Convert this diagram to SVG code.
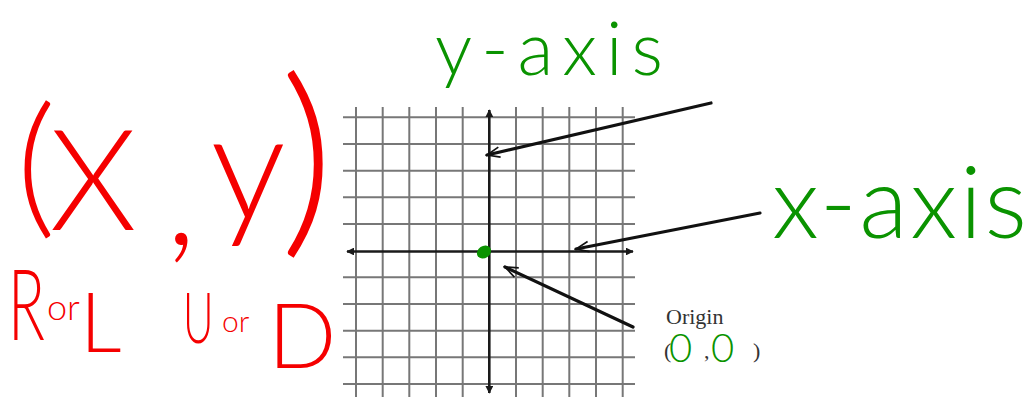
<svg xmlns="http://www.w3.org/2000/svg" width="1033" height="397" viewBox="0 0 1033 397">
<style>
.grid line{stroke:#777;stroke-width:2}
.axis{stroke:#1a1a1a;stroke-width:2.6;fill:none}
.ptr{stroke:#111;stroke-width:3.2;fill:none;stroke-linecap:round}
.red{fill:#f50000;font-family:Lato,Roboto,"Open Sans","Liberation Sans",sans-serif;font-weight:300}
.grn{fill:#0a9300;font-family:Lato,Roboto,"Open Sans","Liberation Sans",sans-serif;font-weight:300}
.prt{fill:#333;font-family:"Liberation Serif",serif}
</style>
<defs>
<marker id="ah" viewBox="0 0 12 10" refX="11" refY="5" markerWidth="5" markerHeight="4" orient="auto" markerUnits="strokeWidth">
<path d="M1,1 L11,5 L1,9" fill="none" stroke="#111" stroke-width="1.3"/>
</marker>
<marker id="tri" viewBox="0 0 10 10" refX="9" refY="5" markerWidth="3" markerHeight="3" orient="auto-start-reverse" markerUnits="strokeWidth">
<path d="M0,0 L10,5 L0,10 Z" fill="#1a1a1a"/>
</marker>
</defs>
<rect width="1033" height="397" fill="#fff"/>
<g id="grid" class="grid">
<line x1="356" y1="107" x2="356" y2="397"/>
<line x1="382.7" y1="107" x2="382.7" y2="397"/>
<line x1="409.3" y1="107" x2="409.3" y2="397"/>
<line x1="436" y1="107" x2="436" y2="397"/>
<line x1="462.7" y1="107" x2="462.7" y2="397"/>
<line x1="516" y1="107" x2="516" y2="397"/>
<line x1="542.7" y1="107" x2="542.7" y2="397"/>
<line x1="569.3" y1="107" x2="569.3" y2="397"/>
<line x1="596" y1="107" x2="596" y2="397"/>
<line x1="622.7" y1="107" x2="622.7" y2="397"/>
<line x1="343" y1="117.3" x2="635" y2="117.3"/>
<line x1="343" y1="144" x2="635" y2="144"/>
<line x1="343" y1="170.7" x2="635" y2="170.7"/>
<line x1="343" y1="197.3" x2="635" y2="197.3"/>
<line x1="343" y1="224" x2="635" y2="224"/>
<line x1="343" y1="277.3" x2="635" y2="277.3"/>
<line x1="343" y1="304" x2="635" y2="304"/>
<line x1="343" y1="330.7" x2="635" y2="330.7"/>
<line x1="343" y1="357.3" x2="635" y2="357.3"/>
<line x1="343" y1="384" x2="635" y2="384"/>
</g>
<g id="axes">
<line class="axis" x1="489.3" y1="110" x2="489.3" y2="393" marker-start="url(#tri)" marker-end="url(#tri)"/>
<line class="axis" x1="347" y1="251.5" x2="633" y2="251.5" marker-start="url(#tri)" marker-end="url(#tri)"/>
</g>
<g id="origin-dot">
<ellipse cx="484" cy="252" rx="7.5" ry="6" transform="rotate(-35 484 252)" fill="#0a9300"/>
</g>
<g id="connectors">
<line class="ptr" x1="711" y1="103" x2="487" y2="155" marker-end="url(#ah)"/>
<line class="ptr" x1="760" y1="213" x2="576" y2="249" marker-end="url(#ah)"/>
<line class="ptr" x1="633" y1="327" x2="505" y2="267" marker-end="url(#ah)"/>
</g>
<g id="label-y-axis">
<text class="grn" x="435" y="75" font-size="74" textLength="228" lengthAdjust="spacing">y-axis</text>
</g>
<g id="label-x-axis">
<text class="grn" x="772" y="238" font-size="100" textLength="255" lengthAdjust="spacing">x-axis</text>
</g>
<g id="label-origin">
<text class="prt" x="666" y="324" font-size="22">Origin</text>
<text class="prt" x="664" y="358" font-size="22">(</text>
<text class="prt" x="704" y="358" font-size="22">,</text>
<text class="prt" x="753" y="358" font-size="22">)</text>
<text class="grn" x="669" y="362" font-size="40">0</text>
<text class="grn" x="711" y="362" font-size="40">0</text>
</g>
<g id="coordinate-pair">
<text class="red" x="36" y="218" font-size="155" text-anchor="middle">(</text>
<text class="red" x="93" y="230" font-size="140" text-anchor="middle">X</text>
<text class="red" x="181" y="245" font-size="140" text-anchor="middle">,</text>
<text class="red" x="248" y="220" font-size="150" text-anchor="middle">y</text>
<text class="red" x="307" y="230" font-size="210" text-anchor="middle">)</text>
</g>
<g id="label-r-or-l">
<text class="red" transform="translate(8 340) scale(0.62 1)" font-size="98">R</text>
<text class="red" x="47" y="320" font-size="36">or</text>
<text class="red" x="80" y="352" font-size="82">L</text>
</g>
<g id="label-u-or-d">
<text class="red" transform="translate(183 343) scale(0.6 1)" font-size="70">U</text>
<text class="red" x="222" y="332" font-size="30">or</text>
<text class="red" x="268" y="368" font-size="90">D</text>
</g>
</svg>
